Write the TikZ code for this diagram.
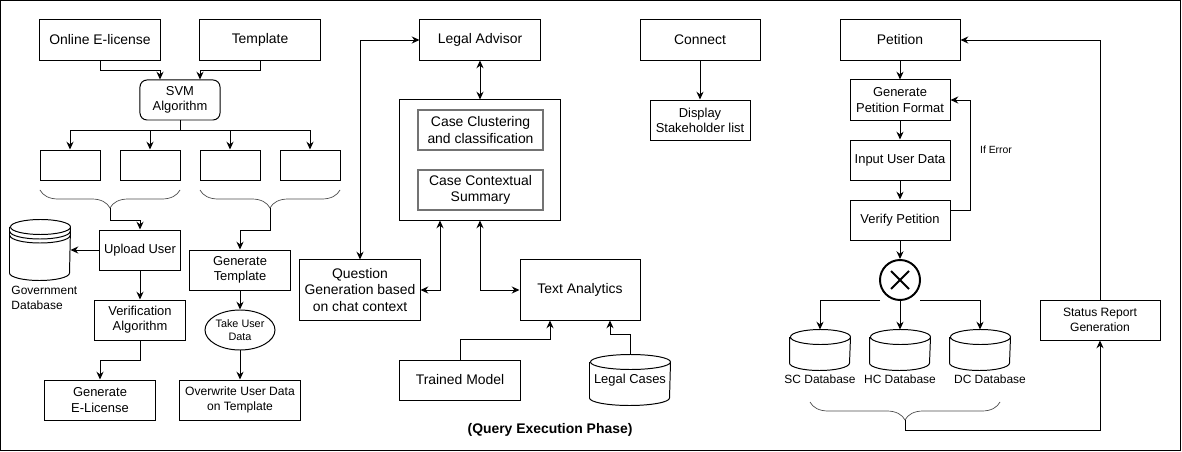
\documentclass[tikz,border=0pt]{standalone}
\usepackage{fontspec}
\setmainfont{Liberation Sans}
\usetikzlibrary{arrows.meta,positioning,calc,shapes.geometric,decorations.pathreplacing}

\newcommand{\drawdb}[2]{%
  \draw ($(#1.north west)+(0,-7.5)$) -- ($(#1.south west)+(0,7.5)$)
    arc[start angle=180, end angle=360, x radius=#2, y radius=0.1875cm]
    -- ($(#1.north east)+(0,-7.5)$)
    arc[start angle=0, end angle=360, x radius=#2, y radius=0.1875cm];}

\begin{document}
\begin{tikzpicture}[
    x=0.025cm,
    y=0.025cm,
    line width=0.7pt,
    >={Stealth[length=5.5pt,width=5pt]},
    box/.style={draw, minimum width=3cm, minimum height=1cm, align=center, inner sep=1pt, font=\fontsize{9.9}{11.6}\selectfont},
    smallbox/.style={box, font=\fontsize{9.2}{10.8}\selectfont},
    emptybox/.style={draw, minimum width=1.5cm, minimum height=0.75cm},
    innerbox/.style={box, draw=black!55, line width=1.1pt, minimum width=3.125cm},
    dbbox/.style={inner sep=0pt, minimum width=1.5cm, minimum height=1cm},
    dblabel/.style={font=\fontsize{8.5}{10.6}\selectfont},
    bracket/.style={draw=black!70, line width=0.5pt, decorate, decoration={brace, mirror, amplitude=0.45cm}},
    arrow/.style={->},
    dual/.style={<->}
  ]
  \useasboundingbox (0,0) rectangle (1182,-452);
  \draw (0.5,-0.5) rectangle (1180,-450);

  \node[box] (license) at (100,-40) {Online E-license};
  \node[box] (template) at (260,-40) {Template};
  \node[smallbox, rounded corners=5pt, minimum width=2cm] (svm) at (180,-100) {SVM\\Algorithm};
  \node[emptybox] (out1) at (70,-165) {};
  \node[emptybox] (out2) at (150,-165) {};
  \node[emptybox] (out3) at (230,-165) {};
  \node[emptybox] (out4) at (310,-165) {};
  \node[smallbox, minimum width=2cm] (upload) at (140,-250) {Upload User};
  \node[dbbox, minimum height=1.5cm] (govdb) at (40,-250) {};
  \node[dblabel, align=left, anchor=north west, inner sep=0pt] (govlabel) at (11,-286) {Government\\Database};
  \node[smallbox, minimum width=2.25cm] (verifalg) at (140,-320) {Verification\\Algorithm};
  \node[smallbox, minimum width=2.75cm] (elicense) at (100,-400) {Generate\\E-License};
  \node[smallbox, minimum width=2.5cm] (gentemplate) at (240,-270) {Generate\\Template};
  \node[draw, ellipse, minimum width=1.75cm, minimum height=1cm, inner sep=0pt, align=center, font=\fontsize{7.7}{9.5}\selectfont] (takedata) at (240,-330) {Take User\\Data};
  \node[box, font=\fontsize{8.6}{10.4}\selectfont] (overwrite) at (240,-400) {Overwrite User Data\\on Template};

  \node[box] (advisor) at (480,-40) {Legal Advisor};
  \node[draw, minimum width=4cm, minimum height=3cm] (engine) at (480,-160) {};
  \node[innerbox] (cluster) at (480.5,-130) {Case Clustering\\and classification};
  \node[innerbox] (summary) at (480.5,-190) {Case Contextual\\Summary};
  \node[box, minimum height=1.5cm] (question) at (360,-290) {Question\\Generation based\\on chat context};
  \node[box, minimum height=1.5cm] (analytics) at (580,-290) {Text Analytics};
  \node[box] (trained) at (460,-380) {Trained Model};
  \node[dbbox, minimum width=2cm, minimum height=1.25cm, font=\fontsize{9.2}{10.8}\selectfont] (cases) at (630,-380) {Legal Cases};
  \node[font=\bfseries\fontsize{9.9}{11.6}\selectfont] (phase) at (550,-430) {(Query Execution Phase)};

  \node[box] (connect) at (700,-40) {Connect};
  \node[smallbox, minimum width=2.5cm] (stakeholders) at (700,-120) {Display\\Stakeholder list};

  \node[box] (petition) at (900,-40) {Petition};
  \node[smallbox, minimum width=2.5cm] (format) at (900,-100) {Generate\\Petition Format};
  \node[smallbox, minimum width=2.5cm] (userdata) at (900,-160) {Input User Data};
  \node[smallbox, minimum width=2.5cm] (verifypet) at (900,-220) {Verify Petition};
  \node[font=\fontsize{7.4}{9}\selectfont] (iferror) at (996,-150) {If Error};
  \node[circle, draw, line width=1.4pt, minimum size=1cm, inner sep=0pt] (gate) at (900,-280) {};
  \node[dbbox] (scdb) at (820,-350) {};
  \node[dbbox] (hcdb) at (900,-350) {};
  \node[dbbox] (dcdb) at (980,-350) {};
  \node[dblabel] (sclabel) at (820,-379) {SC Database};
  \node[dblabel] (hclabel) at (900,-379) {HC Database};
  \node[dblabel] (dclabel) at (990,-379) {DC Database};
  \node[box, font=\fontsize{8.6}{10.4}\selectfont] (status) at (1100,-320) {Status Report\\Generation};

  \drawdb{govdb}{0.75cm}
  \foreach \d in {4,8}
    \draw (10,-227.5-\d) arc[start angle=180, end angle=360, x radius=0.75cm, y radius=0.1875cm];
  \drawdb{cases}{1cm}
  \drawdb{scdb}{0.75cm}
  \drawdb{hcdb}{0.75cm}
  \drawdb{dcdb}{0.75cm}
  \draw[line width=1.4pt] ($(gate)+(-9,-9)$) -- ($(gate)+(9,9)$);
  \draw[line width=1.4pt] ($(gate)+(-9,9)$) -- ($(gate)+(9,-9)$);

  \coordinate (brace1) at (110,-208);
  \coordinate (brace2) at (270,-208);
  \coordinate (brace3) at (905,-420);
  \coordinate (gateleft) at (880,-300);
  \coordinate (gateright) at (920,-300);

  \draw[arrow] (license.south) -- ++(0,-10) -| ($(svm.north)+(-20,0)$);
  \draw[arrow] (template.south) -- ++(0,-10) -| ($(svm.north)+(20,0)$);
  \draw[arrow] (svm.south) -- ++(0,-10) -| (out1.north);
  \draw[arrow] (svm.south) -- ++(0,-10) -| (out2.north);
  \draw[arrow] (svm.south) -- ++(0,-10) -| (out3.north);
  \draw[arrow] (svm.south) -- ++(0,-10) -| (out4.north);
  \draw[bracket] (40,-190) -- (180,-190);
  \draw[bracket] (200,-190) -- (340,-190);
  \draw[arrow] (brace1) -- ++(0,-12) -| (upload.north);
  \draw[arrow] (brace2) -- ++(0,-22) -| (gentemplate.north);
  \draw[arrow] (upload.west) -- (govdb.east);
  \draw[arrow] (upload.south) -- (verifalg.north);
  \draw[arrow] (verifalg.south) -- ++(0,-20) -| (elicense.north);
  \draw[arrow] (gentemplate.south) -- (takedata.north);
  \draw[arrow] (takedata.south) -- (overwrite.north);

  \draw[dual] (question.north) |- (advisor.west);
  \draw[dual] (advisor.south) -- (engine.north);
  \draw[dual] (question.east) -| ($(engine.south)+(-40,0)$);
  \draw[dual] (engine.south) |- (analytics.west);
  \draw[arrow] (trained.north) -- ++(0,20) -| ($(analytics.south)+(-30,0)$);
  \draw[arrow] (cases.north) -- ++(0,20) -| ($(analytics.south)+(30,0)$);

  \draw[arrow] (connect.south) -- (stakeholders.north);

  \draw[arrow] (petition.south) -- (format.north);
  \draw[arrow] (format.south) -- (userdata.north);
  \draw[arrow] (userdata.south) -- (verifypet.north);
  \draw[arrow] ($(verifypet.east)+(0,10)$) -- ++(20,0) |- (format.east);
  \draw[arrow] (verifypet.south) -- (gate.north);
  \draw[arrow] (gateleft) -| (scdb.north);
  \draw[arrow] (gate.south) -- (hcdb.north);
  \draw[arrow] (gateright) -| (dcdb.north);
  \draw[bracket] (810,-402) -- (1000,-402);
  \draw[arrow] (brace3) -- ++(0,-10) -| (status.south);
  \draw[arrow] (status.north) |- (petition.east);
\end{tikzpicture}
\end{document}
